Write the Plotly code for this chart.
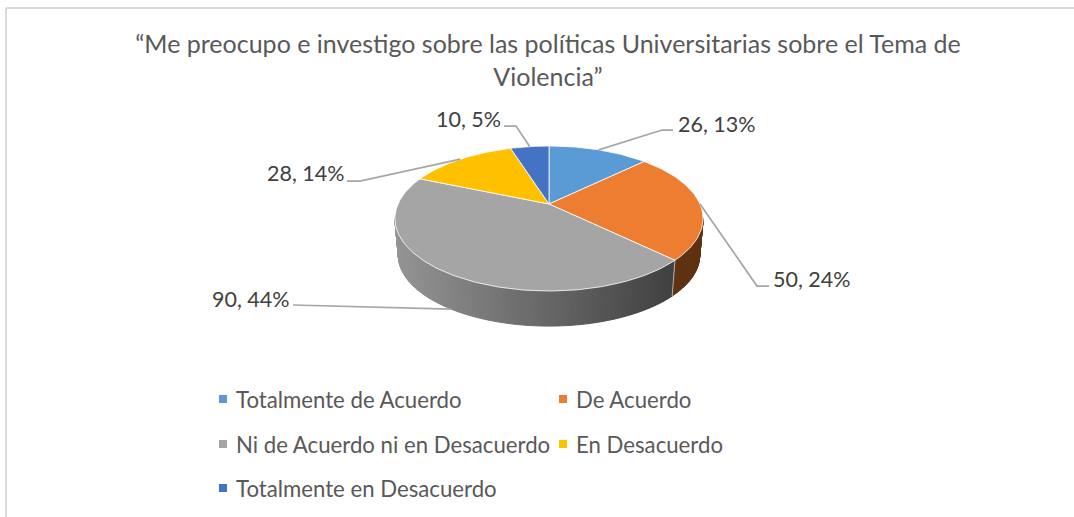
import math

import plotly.graph_objects as go

# data
categories = ["Totalmente de Acuerdo", "De Acuerdo", "Ni de Acuerdo ni en Desacuerdo",
              "En Desacuerdo", "Totalmente en Desacuerdo"]
values = [26, 50, 90, 28, 10]
percents = [13, 24, 44, 14, 5]
colors = ["#5b9bd5", "#ed7d31", "#a5a5a5", "#ffc000", "#4472c4"]
title_text = "“Me preocupo e investigo sobre las políticas Universitarias sobre el Tema de<br>Violencia”"

FONT = "Lato"
W, H = 1074, 517

# perspective pie projection, in pixels
CX, CY = 549, 204
RX, RY, K = 151, 69.6, 0.2
DEPTH, SHRINK = 37, 0.978


def top_point(angle):
    """Point on the top disc rim, angle in degrees clockwise from 12 o'clock."""
    u, v = math.sin(math.radians(angle)), math.cos(math.radians(angle))
    d = 1 + K * v
    return CX + RX * u / d, CY - RY * v / d


def bottom_point(angle):
    x, y = top_point(angle)
    return CX + (x - CX) * SHRINK, CY + DEPTH + (y - CY) * SHRINK


def arc_angles(start, end):
    n = max(2, int(abs(end - start)) + 1)
    return [start + (end - start) * i / n for i in range(n + 1)]


total = sum(values)
edges = [0]
for v in values:
    edges.append(edges[-1] + v / total * 360)

fig = go.Figure()


def add_strip(a0, a1, color):
    x0, y0 = top_point(a0)
    x1, y1 = top_point(a1)
    x2, y2 = bottom_point(a1)
    x3, y3 = bottom_point(a0)
    fig.add_trace(go.Scatter(x=[x0, x1, x2, x3, x0], y=[y0, y1, y2, y3, y0], mode="lines",
                             fill="toself", fillcolor=color, line=dict(color=color, width=1),
                             hoverinfo="skip", showlegend=False))


# visible side wall: orange from the right silhouette, gray down to the left one
right_edge = math.degrees(math.acos(-K))
left_edge = 360 - right_edge
x_left = bottom_point(left_edge)[0]
x_right = bottom_point(edges[2])[0]

side = arc_angles(right_edge, edges[2])
for a0, a1 in zip(side, side[1:]):
    add_strip(a0, a1, "#5f3211")

side = arc_angles(edges[2], left_edge)
for a0, a1 in zip(side, side[1:]):
    t = (bottom_point(a0)[0] - x_left) / (x_right - x_left)
    g = round(0x94 + (0x40 - 0x94) * t)
    add_strip(a0, a1, f"rgb({g},{g},{g})")

# front edge of the gray slice on the side wall
fig.add_trace(go.Scatter(x=[top_point(edges[2])[0], bottom_point(edges[2])[0]],
                         y=[top_point(edges[2])[1], bottom_point(edges[2])[1]], mode="lines",
                         line=dict(color="rgba(255,255,255,0.6)", width=1),
                         hoverinfo="skip", showlegend=False))

# top face slices
for i, name in enumerate(categories):
    rim = [top_point(a) for a in arc_angles(edges[i], edges[i + 1])]
    xs = [CX] + [p[0] for p in rim] + [CX]
    ys = [CY] + [p[1] for p in rim] + [CY]
    fig.add_trace(go.Scatter(x=xs, y=ys, mode="lines", fill="toself", fillcolor=colors[i],
                             line=dict(color="rgba(255,255,255,0.8)", width=1),
                             name=name, text=f"{name}: {values[i]}", hoverinfo="text",
                             showlegend=False))

# leader lines and data labels
elbows = [[(662, 130), (673, 130)], [(757, 286), (769, 286)], [(293, 305)],
          [(360, 181), (347, 181)], [(516, 126), (504, 126)]]
label_pos = [(676, 124), (771, 279), (210, 299), (265, 173), (434, 119)]
for i, v in enumerate(values):
    mid = (edges[i] + edges[i + 1]) / 2
    sx, sy = bottom_point(mid) if 180 < mid < left_edge else top_point(mid)
    fig.add_trace(go.Scatter(x=[sx] + [p[0] for p in elbows[i]], y=[sy] + [p[1] for p in elbows[i]],
                             mode="lines", line=dict(color="#a6a6a6", width=1.75),
                             hoverinfo="skip", showlegend=False))
    fig.add_annotation(x=label_pos[i][0], y=label_pos[i][1], text=f"{v}, {percents[i]}%",
                       xref="x", yref="y", xanchor="left", yanchor="middle", showarrow=False,
                       font=dict(family=FONT, size=21.5, color="#404040"))

# legend, laid out as in the original: two columns, three rows
legend_pos = [(223, 399), (563, 399), (223, 444), (563, 444), (223, 488)]
for i, name in enumerate(categories):
    lx, ly = legend_pos[i]
    fig.add_trace(go.Scatter(x=[lx], y=[ly], mode="markers",
                             marker=dict(symbol="square", size=8, color=colors[i]),
                             hoverinfo="skip", showlegend=False))
    fig.add_annotation(x=lx + 11, y=ly, text=name, xref="x", yref="y", xanchor="left",
                       yanchor="middle", showarrow=False,
                       font=dict(family=FONT, size=22.2, color="#595959"))

fig.update_layout(
    width=W, height=H,
    margin=dict(l=0, r=0, t=0, b=0),
    paper_bgcolor="white", plot_bgcolor="white",
    showlegend=False,
    title=dict(text=title_text, x=548 / W, xanchor="center", y=1 - 53 / H, yanchor="top",
               font=dict(family=FONT, size=25, color="#595959")),
    xaxis=dict(range=[0, W], visible=False, fixedrange=True),
    yaxis=dict(range=[H, 0], visible=False, fixedrange=True),
    shapes=[dict(type="line", xref="x", yref="y", x0=6, y0=8, x1=W, y1=8,
                 line=dict(color="#d9d9d9", width=2)),
            dict(type="line", xref="x", yref="y", x0=6, y0=8, x1=6, y1=H,
                 line=dict(color="#d9d9d9", width=2))],
)

# the page's default body margin would push the figure 8px off
fig.write_html("out.html", config=dict(displayModeBar=False),
               post_script="document.body.style.margin='0';")
